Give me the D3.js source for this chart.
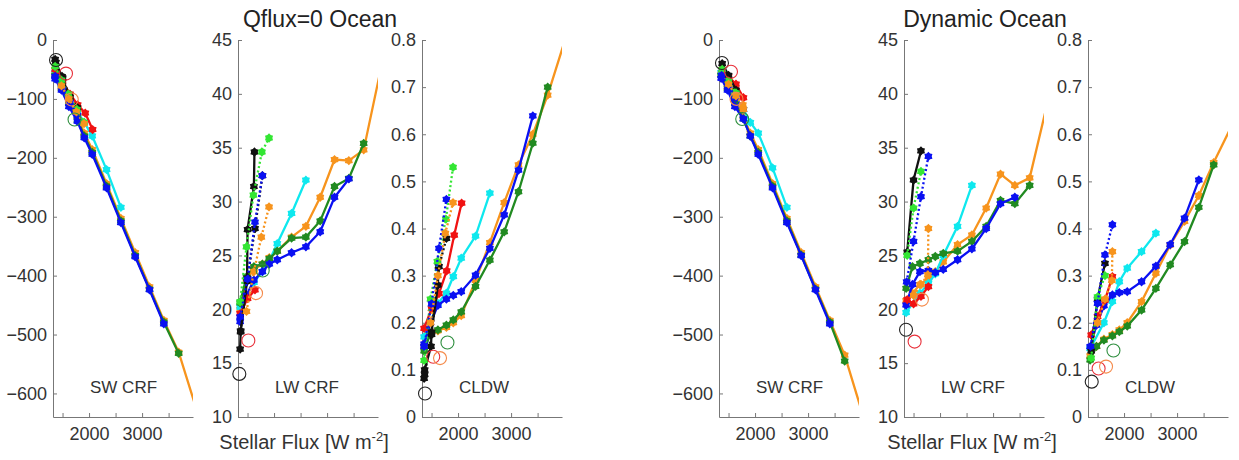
<!DOCTYPE html>
<html>
<head>
<meta charset="utf-8">
<script src="https://cdn.jsdelivr.net/npm/d3@7"></script>
<style>
  body { margin: 0; background: #fff; }
  text { font-family: "Liberation Sans", Arial, sans-serif; }
</style>
</head>
<body>
<div id="vis_container"></div>
<script>
// stellar flux of each run (W m-2)
var fluxOrange = [1360, 1480, 1620, 1780, 1910, 2060, 2330, 2600, 2870, 3140, 3410, 3690, 4240];
var fluxCyan = [1360, 1620, 1780, 1910, 2060, 2330, 2600];
var fluxGreen = [1360, 1480, 1620, 1780, 1910, 2060, 2330, 2600, 2870, 3140, 3410, 3690];
var fluxBlue = [1360, 1480, 1620, 1780, 1910, 2060, 2330, 2600, 2870, 3140, 3410];
var qFluxRed = [1360, 1500, 1640, 1785, 1928, 2067];
var qFluxBlack = [1360, 1370, 1490, 1500, 1620, 1630];
var qFluxBlackDot = [1370, 1500, 1640, 1780];
var qFluxLimeDot = [1360, 1480, 1610, 1770, 1905];
var qFluxBlueDot = [1360, 1500, 1640, 1780];
var qFluxOrangeDot = [1480, 1620, 1760, 1905];
var dFluxRed = [1380, 1500, 1640, 1780];
var dFluxBlack = [1380, 1500, 1640];
var dFluxLimeDot = [1380, 1500, 1640];
var dFluxBlueDot = [1370, 1500, 1640, 1780];
var dFluxOrangeDot = [1500, 1640, 1770, 1780];

// series order: orange, cyan, green, blue, red, black, black dotted, lime dotted, blue dotted, orange dotted
var qFlux = [fluxOrange, fluxCyan, fluxGreen, fluxBlue, qFluxRed, qFluxBlack, qFluxBlackDot, qFluxLimeDot, qFluxBlueDot, qFluxOrangeDot];
var dFlux = [fluxOrange, fluxCyan, fluxGreen, fluxBlue, dFluxRed, dFluxBlack, null, dFluxLimeDot, dFluxBlueDot, dFluxOrangeDot];

var qSW = [
  [-58, -80, -104, -130, -158, -186, -244, -303, -361, -419, -476, -530, -689],
  [-55, -98, -122, -140, -163, -220, -284],
  [-60, -82, -108, -136, -163, -191, -248, -307, -366, -423, -479, -532],
  [-66, -85, -113, -138, -166, -194, -251, -310, -368, -424, -482],
  [-50, -70, -92, -110, -124, -152],
  [-33, -38, -62, -66, -95, -100],
  [-38, -64, -97, -115],
  [-45, -68, -92, -118, -140],
  [-62, -84, -106, -128],
  [-78, -100, -122, -142]
];
var qLW = [
  [20.0, 22.8, 23.7, 24.2, 24.8, 25.4, 26.7, 27.7, 30.4, 33.9, 33.8, 34.8, 47.6],
  [20.2, 22.5, 23.5, 24.5, 26.1, 28.9, 32.0],
  [20.6, 23.0, 23.95, 24.2, 24.7, 25.4, 26.6, 26.7, 28.2, 31.4, 32.15, 35.4],
  [18.85, 21.3, 22.7, 23.5, 24.2, 24.6, 25.25, 25.8, 27.2, 30.4, 32.1],
  [19.6, 21.0, 21.8, null, null, null],
  [16.3, 17.9, 22.6, 27.4, 31.4, 34.6],
  [18.0, 22.9, 27.5, 32.4],
  [20.7, 25.8, 30.6, 34.6, 35.9],
  [19.3, 22.8, 28.1, 32.4],
  [19.8, 23.5, 26.7, 29.5]
];
var qCLDW = [
  [0.15, 0.175, 0.183, 0.19, 0.2, 0.215, 0.29, 0.37, 0.455, 0.535, 0.60, 0.683, 0.88],
  [0.17, 0.241, 0.263, 0.298, 0.337, 0.384, 0.475],
  [0.14, 0.178, 0.185, 0.195, 0.206, 0.223, 0.277, 0.333, 0.393, 0.478, 0.581, 0.70],
  [0.155, 0.20, 0.237, 0.25, 0.258, 0.266, 0.301, 0.358, 0.429, 0.524, 0.639],
  [0.188, 0.23, 0.262, 0.31, 0.386, 0.454],
  [0.082, 0.10, 0.15, 0.18, 0.28, 0.32],
  [0.09, 0.175, 0.319, 0.379],
  [0.12, 0.25, 0.33, 0.42, 0.53],
  [0.15, 0.24, 0.358, 0.462],
  [0.2, 0.30, 0.39, 0.455]
];
var dSW = [
  [-58, -80, -104, -130, -158, -186, -244, -303, -361, -419, -476, -535, -698],
  [-55, -95, -118, -140, -158, -217, -284],
  [-60, -82, -108, -134, -163, -191, -248, -307, -365, -423, -479, -545],
  [-65, -85, -113, -134, -163, -194, -251, -310, -366, -424, -482],
  [-50, -62, -75, -98],
  [-40, -60, -85],
  null,
  [-50, -70, -90],
  [-60, -78, -98, -118],
  [-75, -95, -110, -118]
];
var dLW = [
  [20.8, 21.5, 22.3, 22.9, 23.5, 24.4, 26.0, 26.9, 29.4, 32.55, 31.5, 32.2, 43.6],
  [19.7, 21.5, 22.4, 23.3, 25.0, 27.7, 31.5],
  [21.95, 23.95, 24.25, 24.6, 24.9, 25.2, 25.4, 26.3, 27.7, 30.1, 29.8, 31.5],
  [20.4, 22.3, 23.5, 23.6, 23.4, 23.7, 24.6, 25.6, 27.5, 29.8, 30.4],
  [20.9, 20.5, 21.2, 22.1],
  [25.3, 32.0, 34.7],
  null,
  [25.0, 29.4, 32.8],
  [22.55, 26.3, 30.45, 34.2],
  [21.3, 22.3, 23.2, 27.5]
];
var dCLDW = [
  [0.13, 0.15, 0.165, 0.175, 0.185, 0.2, 0.245, 0.305, 0.365, 0.415, 0.47, 0.54, 0.666],
  [0.145, 0.2, 0.245, 0.287, 0.316, 0.351, 0.39],
  [0.121, 0.15, 0.163, 0.172, 0.181, 0.193, 0.227, 0.273, 0.323, 0.372, 0.445, 0.535],
  [0.149, 0.195, 0.236, 0.259, 0.264, 0.266, 0.287, 0.32, 0.366, 0.422, 0.503],
  [0.174, 0.213, 0.248, 0.298],
  [0.14, 0.25, 0.326],
  null,
  [0.125, 0.255, 0.30],
  [0.15, 0.241, 0.344, 0.408],
  [0.2, 0.25, 0.29, 0.351]
];

// open circles (black, red, orange, green): [flux, value]
var qSwRings = [[1377, -34], [1565, -57], [1674, -101], [1726, -135]];
var qLwRings = [[1345, 14.0], [1515, 17.1], [1660, 21.5], [1786, 23.6]];
var qCldRings = [[1377, 0.05], [1532, 0.128], [1660, 0.125], [1800, 0.158]];
var dSwRings = [[1376, -39], [1546, -54], [1650, -100], [1758, -134]];
var dLwRings = [[1358, 18.1], [1520, 17.0], [1658, 20.9], null];
var dCldRings = [[1390, 0.075], [1520, 0.103], [1660, 0.107], [1800, 0.141]];

var xTicks = [1500, 2000, 2500, 3000, 3500];
var swTicks = [-600, -500, -400, -300, -200, -100, 0];
var lwTicks = [10, 15, 20, 25, 30, 35, 40, 45];
var cldTicks = [0, 0.1, 0.2, 0.3, 0.4, 0.5, 0.6, 0.7, 0.8];

// line styles for each series
var lineStyles = [
  { color: "#f7941d", dash: null },
  { color: "#0ee8ee", dash: null },
  { color: "#218a21", dash: null },
  { color: "#0a10f2", dash: null },
  { color: "#f01212", dash: null },
  { color: "#111111", dash: null },
  { color: "#111111", dash: "2,2.5" },
  { color: "#33e633", dash: "2,2.5" },
  { color: "#0a10f2", dash: "2,2.5" },
  { color: "#f7941d", dash: "2,2.5" }
];
var ringColors = ["#222222", "#e8303a", "#f58a4a", "#2f8f3f"];

var width = 1239;
var height = 460;
var plotTop = 40;
var plotBottom = 417;
var panelW = 140;

var svg = d3.select("#vis_container")
  .append("svg")
  .attr("width", width)
  .attr("height", height);

var x = d3.scaleLinear().domain([1320, 3960]).range([0, panelW]);

// MATLAB style hexagram marker
var hexagram = {
  draw: function (context, size) {
    var r = Math.sqrt(size) * 0.6;
    var ri = r * 0.72;
    for (var i = 0; i < 12; i++) {
      var a = Math.PI / 6 * i - Math.PI / 2;
      var rr = i % 2 === 0 ? r : ri;
      if (i === 0) context.moveTo(rr * Math.cos(a), rr * Math.sin(a));
      else context.lineTo(rr * Math.cos(a), rr * Math.sin(a));
    }
    context.closePath();
  }
};
var marker = d3.symbol().type(hexagram).size(60);

var cldFormat = function (d) { return d === 0 ? "0" : d3.format(".1f")(d); };

var panels = [
  { id: "p1", left: 53, domain: [-640, 0], ticks: swTicks, fmt: d3.format("d"), flux: qFlux, vals: qSW, rings: qSwRings, label: "SW CRF", xLabels: true },
  { id: "p2", left: 238, domain: [10, 45], ticks: lwTicks, fmt: d3.format("d"), flux: qFlux, vals: qLW, rings: qLwRings, label: "LW CRF", xLabels: false },
  { id: "p3", left: 422, domain: [0, 0.8], ticks: cldTicks, fmt: cldFormat, flux: qFlux, vals: qCLDW, rings: qCldRings, label: "CLDW", xLabels: true },
  { id: "p4", left: 719, domain: [-640, 0], ticks: swTicks, fmt: d3.format("d"), flux: dFlux, vals: dSW, rings: dSwRings, label: "SW CRF", xLabels: true },
  { id: "p5", left: 904, domain: [10, 45], ticks: lwTicks, fmt: d3.format("d"), flux: dFlux, vals: dLW, rings: dLwRings, label: "LW CRF", xLabels: false },
  { id: "p6", left: 1088, domain: [0, 0.8], ticks: cldTicks, fmt: cldFormat, flux: dFlux, vals: dCLDW, rings: dCldRings, label: "CLDW", xLabels: true }
];

panels.forEach(function (p) {
  var g = svg.append("g").attr("transform", "translate(" + p.left + ",0)");
  var y = d3.scaleLinear().domain(p.domain).range([plotBottom, plotTop]);

  g.append("clipPath").attr("id", "clip-" + p.id)
    .append("rect")
    .attr("x", 0).attr("y", plotTop)
    .attr("width", panelW).attr("height", plotBottom - plotTop);

  // axes, ticks pointing inward
  var yAxis = g.append("g")
    .call(d3.axisLeft(y).tickValues(p.ticks).tickFormat(p.fmt)
      .tickSize(-4).tickSizeOuter(0).tickPadding(6));
  var xAxis = g.append("g")
    .attr("transform", "translate(0," + plotBottom + ")")
    .call(d3.axisBottom(x).tickValues(xTicks)
      .tickFormat(function (d) { return (p.xLabels && d % 1000 === 0) ? d : ""; })
      .tickSize(-4).tickSizeOuter(0).tickPadding(10));
  [yAxis, xAxis].forEach(function (a) {
    a.attr("font-size", 18).attr("font-family", "Liberation Sans, Arial, sans-serif");
    a.selectAll("path, line").attr("stroke", "#777");
    a.selectAll("text").attr("fill", "#333");
  });

  var lineFunc = d3.line()
    .defined(function (d) { return d[1] != null; })
    .x(function (d) { return x(d[0]); })
    .y(function (d) { return y(d[1]); });

  p.vals.forEach(function (vals, i) {
    var xs = p.flux[i];
    if (!vals || !xs) return;
    var pts = xs.map(function (v, j) { return [v, vals[j]]; });
    var st = lineStyles[i];
    g.append("path")
      .attr("d", lineFunc(pts))
      .attr("clip-path", "url(#clip-" + p.id + ")")
      .attr("fill", "none")
      .attr("stroke", st.color)
      .attr("stroke-width", 2.3)
      .attr("stroke-dasharray", st.dash);
    g.selectAll(null)
      .data(pts.filter(function (d) { return d[1] != null && d[0] <= 3960; }))
      .enter().append("path")
      .attr("d", marker)
      .attr("transform", function (d) { return "translate(" + x(d[0]) + "," + y(d[1]) + ")"; })
      .attr("fill", st.color);
  });

  p.rings.forEach(function (r, i) {
    if (!r) return;
    g.append("circle")
      .attr("cx", x(r[0]))
      .attr("cy", y(r[1]))
      .attr("r", 6.5)
      .attr("fill", "none")
      .attr("stroke", ringColors[i])
      .attr("stroke-width", 1.1);
  });

  g.append("text")
    .attr("x", 37)
    .attr("y", 393)
    .attr("font-size", 17)
    .attr("fill", "#333")
    .text(p.label);
});

// titles and x labels
[["Qflux=0 Ocean", 320, 304], ["Dynamic Ocean", 985, 972]].forEach(function (t) {
  svg.append("text")
    .attr("x", t[1]).attr("y", 27)
    .attr("text-anchor", "middle")
    .attr("font-size", 23)
    .attr("fill", "#222")
    .text(t[0]);
  var lab = svg.append("text")
    .attr("x", t[2]).attr("y", 449)
    .attr("text-anchor", "middle")
    .attr("font-size", 20)
    .attr("fill", "#333");
  lab.append("tspan").text("Stellar Flux [W m");
  lab.append("tspan").attr("font-size", 13).attr("dy", -8).text("-2");
  lab.append("tspan").attr("dy", 8).text("]");
});
</script>
</body>
</html>
